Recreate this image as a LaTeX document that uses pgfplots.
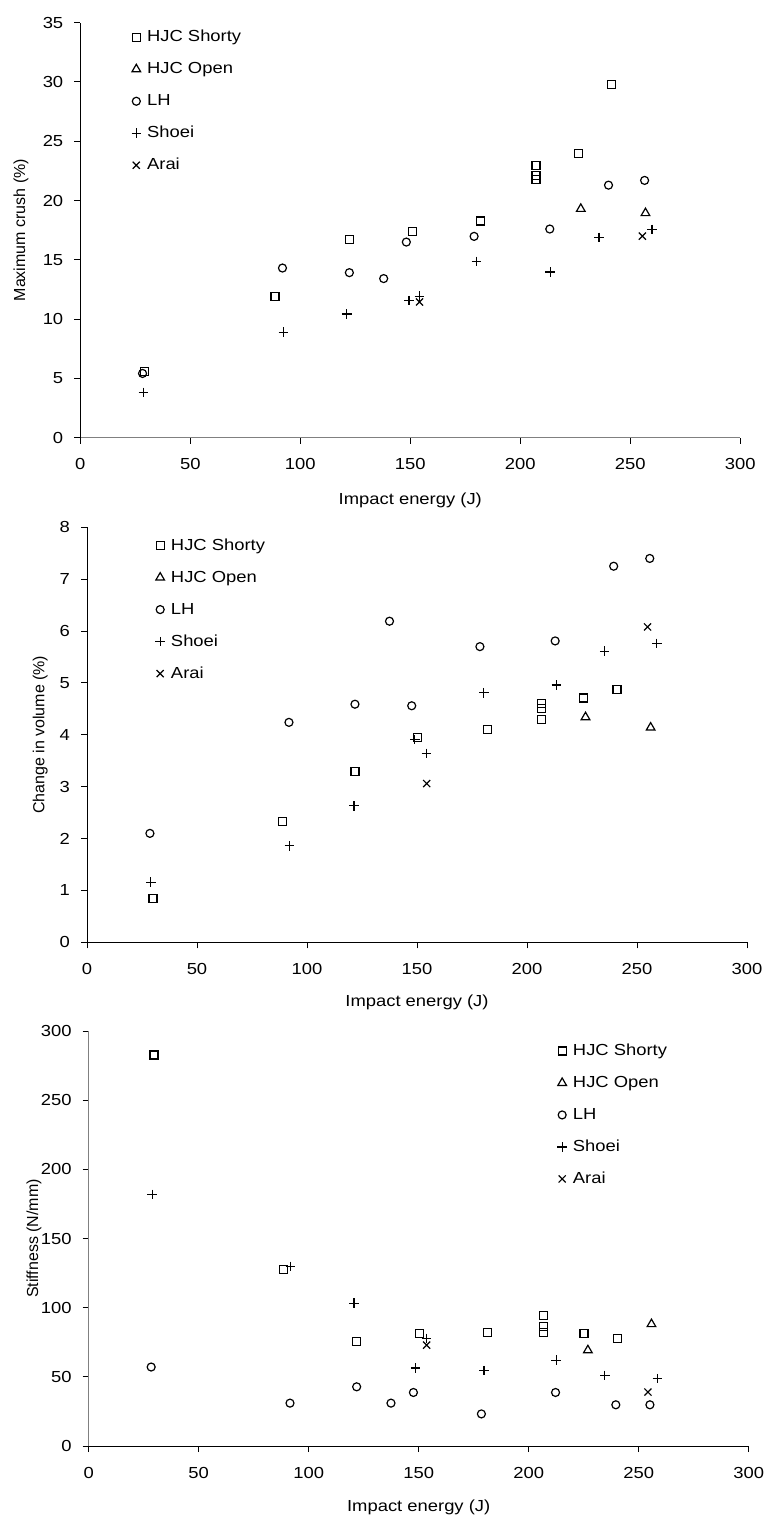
\documentclass[border=0pt]{standalone}
\usepackage{fontspec}
\setmainfont{Liberation Sans}[FakeStretch=1.15]
\newfontfamily\rotfont{Liberation Sans}
\usepackage{pgfplots}
\pgfplotsset{compat=1.18}

% common look of the three Excel-style scatter plots
\pgfplotsset{
  helmet/.style={
    scale only axis, width=330pt, height=207.5pt,
    xmin=0, xmax=300, xtick distance=50,
    axis x line=bottom, axis y line=left,
    axis line style={-, line width=0.5pt},
    tick align=outside, major tick length=3pt,
    tick style={line width=0.5pt, black},
    /pgf/number format/assume math mode=true,
    tick label style={font=\fontsize{8}{9.6}\selectfont},
    xticklabel style={yshift=-4pt},
    yticklabel style={xshift=-2pt},
    xlabel style={font=\fontsize{8}{9.6}\selectfont},
    ylabel style={font=\rotfont\fontsize{8}{9.6}\selectfont},
    xlabel={Impact energy (J)},
    legend cell align=left,
    legend image code/.code={\draw[##1] plot coordinates {(0pt,0pt)};},
    legend style={draw=none, fill=none, inner sep=0pt, row sep=8.5pt,
      font=\fontsize{8}{9.6}\selectfont, anchor=north west,
      nodes={inner sep=0pt, text height=6pt, text depth=1.5pt},
      /tikz/every odd column/.append style={column sep=3pt}},
  },
  hs/.style={only marks, black, mark=square, mark size=2pt, mark options={line width=0.6pt}},
  ho/.style={only marks, black, mark=triangle, mark size=2.5pt, mark options={line width=0.6pt}},
  lh/.style={only marks, black, mark=o, mark size=2pt, mark options={line width=0.6pt}},
  sh/.style={only marks, black, mark=+, mark size=2.4pt, mark options={line width=0.6pt}},
  ar/.style={only marks, black, mark=x, mark size=2.5pt, mark options={line width=0.6pt}},
}

\begin{document}
\begin{tikzpicture}
\path[use as bounding box] (0pt,0pt) rectangle (382.5pt,-760.5pt);

% maximum crush
\begin{axis}[helmet, at={(40.15pt,-218.85pt)}, anchor=south west,
  ymin=0, ymax=35, ytick distance=5,
  x axis line style={gray},
  ylabel={Maximum crush (\%)},
  ylabel style={at={(axis description cs:-0.09,0.5)}, anchor=center},
  xlabel style={at={(axis description cs:0.5,-0.152)}, anchor=center},
  legend style={at={(rel axis cs:0.077,0.984)}}]
\addplot[hs] coordinates {(29.2,5.56) (88.5,11.93) (122.3,16.73) (151,17.37) (182,18.27)
  (207.1,22.95) (207.1,22.1) (207.1,21.75) (226.5,23.94) (241.5,29.8)};
\addplot[ho] coordinates {(227.5,19.3) (256.9,18.94)};
\addplot[lh] coordinates {(28.3,5.42) (91.9,14.31) (122.3,13.92) (137.9,13.42) (148.2,16.5)
  (179,16.98) (213.4,17.6) (240.1,21.3) (256.5,21.7)};
\addplot[sh] coordinates {(28.7,3.82) (92.3,8.9) (121.1,10.44) (149.4,11.56) (154.2,11.93)
  (180,14.87) (213.6,13.98) (235.8,16.9) (259.9,17.57)};
\addplot[ar] coordinates {(154.2,11.45) (255.5,17.0)};
\legend{HJC Shorty,HJC Open,LH,Shoei,Arai}
\end{axis}

% change in volume
\begin{axis}[helmet, at={(43.5pt,-471.15pt)}, anchor=south west,
  ymin=0, ymax=8, ytick distance=1,
  ylabel={Change in volume (\%)},
  ylabel style={at={(axis description cs:-0.071,0.5)}, anchor=center},
  xlabel style={at={(axis description cs:0.5,-0.145)}, anchor=center},
  legend style={at={(rel axis cs:0.103,0.975)}}]
\addplot[hs] coordinates {(30,0.85) (88.8,2.33) (121.8,3.29) (150.4,3.95) (182,4.10)
  (206.6,4.60) (206.6,4.50) (206.6,4.30) (225.8,4.71) (240.9,4.88)};
\addplot[ho] coordinates {(226.6,4.34) (256.2,4.14)};
\addplot[lh] coordinates {(28.6,2.10) (91.8,4.24) (121.8,4.59) (137.5,6.19) (147.6,4.56)
  (178.6,5.70) (212.8,5.81) (239.4,7.25) (255.8,7.40)};
\addplot[sh] coordinates {(29,1.16) (92,1.86) (121.4,2.63) (149,3.91) (154.3,3.64)
  (180.4,4.81) (213.4,4.96) (235.3,5.61) (259,5.76)};
\addplot[ar] coordinates {(154.4,3.06) (254.8,6.08)};
\legend{HJC Shorty,HJC Open,LH,Shoei,Arai}
\end{axis}

% stiffness
\begin{axis}[helmet, at={(44.35pt,-723pt)}, anchor=south west,
  ymin=0, ymax=300, ytick distance=50,
  y axis line style={gray},
  ylabel={Stiffness (N/mm)},
  ylabel style={at={(axis description cs:-0.083,0.5)}, anchor=center},
  xlabel style={at={(axis description cs:0.5,-0.148)}, anchor=center},
  legend style={at={(rel axis cs:0.7095,0.971)}}]
\addplot[hs] coordinates {(29.7,282.7) (88.7,127.8) (121.8,75.5) (150.4,81.1) (181.2,82.3)
  (206.7,94.4) (206.7,86.6) (206.7,81.8) (225.1,81.1) (240.3,77.7)};
\addplot[ho] coordinates {(226.9,69.2) (255.8,88.1)};
\addplot[lh] coordinates {(28.4,57.1) (91.5,31.0) (121.8,42.8) (137.4,31.0) (147.6,38.7)
  (178.5,23.2) (212.2,38.7) (239.6,29.8) (255.1,29.8)};
\addplot[sh] coordinates {(28.9,181.8) (91.7,129.8) (120.6,103.3) (148.6,56.4) (153.6,77.7)
  (179.7,54.5) (212.5,62.0) (234.6,51.1) (258.5,48.7)};
\addplot[ar] coordinates {(153.6,72.9) (254.2,39.0)};
\legend{HJC Shorty,HJC Open,LH,Shoei,Arai}
\end{axis}
\end{tikzpicture}
\end{document}
